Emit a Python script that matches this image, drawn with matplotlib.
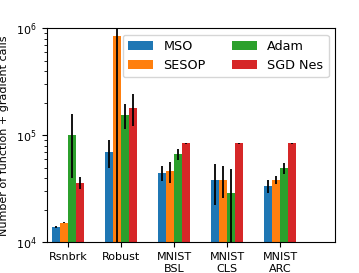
import numpy as np
import matplotlib.pyplot as plt

problems = ["Rsnbrk", "Robust", "MNIST\nBSL", "MNIST\nCLS", "MNIST\nARC"]
methods = ["MSO", "SESOP", "Adam", "SGD Nes"]

mso = [1.39e4, 6.98e4, 4.48e4, 3.80e4, 3.34e4]
mso_err = [300, 2.0e4, 7.0e3, 1.55e4, 4.8e3]
sesop = [1.53e4, 8.4e5, 4.61e4, 3.85e4, 3.85e4]
sesop_err = [300, 9.0e5, 1.05e4, 1.27e4, 3.3e3]
adam = [1.0e5, 1.56e5, 6.64e4, 2.89e4, 4.92e4]
adam_err = [6.0e4, 4.1e4, 7.5e3, 1.95e4, 5.9e3]
sgd_nes = [3.6e4, 1.82e5, 8.42e4, 8.42e4, 8.42e4]
sgd_nes_err = [4.5e3, 6.0e4, 500, 1.5e3, 500]

values = [mso, sesop, adam, sgd_nes]
errors = [mso_err, sesop_err, adam_err, sgd_nes_err]

fig = plt.figure(figsize=(3.59, 2.73), dpi=100)
ax = fig.add_axes([0.130, 0.1125, 0.803, 0.7835])

x = np.arange(len(problems))
width = 0.15
for i, (vals, errs) in enumerate(zip(values, errors)):
    ax.bar(x + (i - 1.5) * width, vals, width, yerr=errs, label=methods[i],
           error_kw=dict(ecolor="black", elinewidth=1.3, capsize=0))

ax.set_yscale("log")
ax.set_ylim(1e4, 1e6)
ax.set_xlim(-0.41, 5.03)
ax.set_xticks(x)
ax.set_xticklabels(problems, fontsize=8)
ax.tick_params(axis="y", labelsize=8)
ax.set_ylabel("Number of function + gradient calls", fontsize=8, labelpad=5)
ax.legend(loc="upper right", ncol=2, fontsize=9.2)

plt.savefig("out.png", dpi=100)
